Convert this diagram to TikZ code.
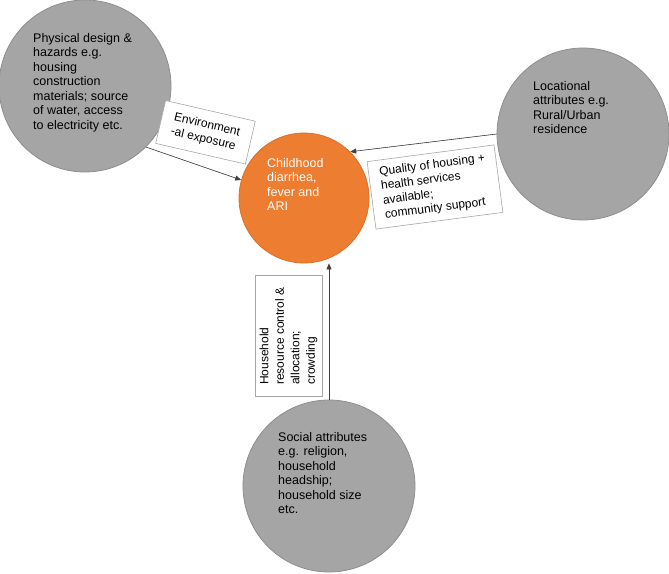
\documentclass[tikz,border=0pt]{standalone}
\usepackage{fontspec}
\setmainfont{Liberation Sans}
\usetikzlibrary{arrows.meta}
\definecolor{factorGray}{HTML}{A5A5A5}
\definecolor{factorEdge}{HTML}{8C8C8C}
\definecolor{outcomeOrange}{HTML}{ED7D31}
\definecolor{outcomeEdge}{HTML}{D96E27}
\definecolor{linkGray}{HTML}{404040}
\begin{document}
\begin{tikzpicture}[x=1pt,y=-1pt,
    factorC/.style={circle,fill=factorGray,draw=factorEdge,line width=0.75pt,minimum size=172pt,inner sep=0pt},
    outcomeC/.style={circle,fill=outcomeOrange,draw=outcomeEdge,line width=0.75pt,minimum size=130pt,inner sep=0pt},
    circTxt/.style={anchor=north west,align=left,inner sep=0pt,font=\fontsize{12.5}{14.5}\selectfont},
    pathBox/.style={draw=black!35,fill=white,line width=0.6pt,align=left,inner sep=0pt,font=\fontsize{12}{14.5}\selectfont},
    linkA/.style={-{Triangle[length=6pt,width=5pt]},line width=0.6pt,draw=linkGray,fill=linkGray},
]
\useasboundingbox (0,0) rectangle (669,573);
% Factor circles
\node[factorC] (physC) at (85,86) {};
\node[factorC] (locC) at (583,134) {};
\node[factorC] (socC) at (329,486) {};
% Outcome
\node[outcomeC] (childC) at (304,198) {};
% Circle texts
\node[circTxt] (physT) at (33,33) {Physical design \&\\hazards e.g.\\housing\\construction\\materials; source\\of water, access\\to electricity etc.};
\node[circTxt] (locT) at (533,81) {Locational\\attributes e.g.\\Rural/Urban\\residence};
\node[circTxt] (socT) at (278,432) {Social attributes\\e.g. religion,\\household\\headship;\\household size\\etc.};
\node[circTxt,text=white] (childT) at (267,158) {Childhood\\diarrhea,\\fever and\\ARI};
% Pathways
\draw[linkA] (physC.-45) -- (childC.164);
\draw[linkA] (locC.180) -- (childC.45);
\draw[linkA] (socC.north) -- (socC.north |- childC.south);
% Pathway labels
\node[pathBox,rotate=-13,minimum width=92pt,minimum height=44pt] (envB) at (205.5,132.3) {Environment\\-al exposure};
\node[pathBox,rotate=7.5,minimum width=128pt,minimum height=68pt] (qualB) at (435,187) {Quality of housing +\\health services\\available;\\community support};
\node[pathBox,rotate=90,minimum width=121pt,minimum height=67pt,font=\fontsize{12}{15.5}\selectfont] (hhB) at (288.5,336) {Household\\resource control \&\\allocation;\\crowding};
\end{tikzpicture}
\end{document}
